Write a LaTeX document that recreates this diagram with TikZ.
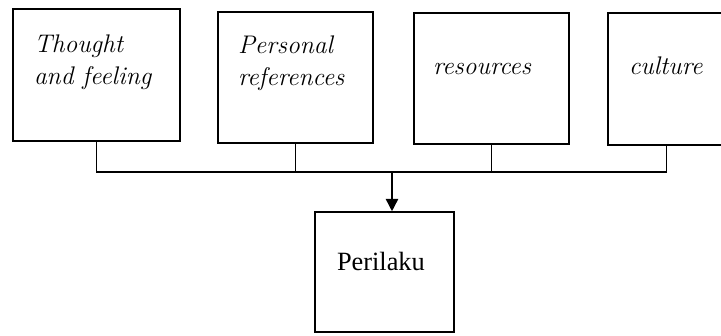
\documentclass[tikz,border=0pt]{standalone}
\usepackage{fontspec}
\setmainfont{Liberation Serif}
\newfontfamily\lmital{Latin Modern Roman}
\usetikzlibrary{positioning}
\usetikzlibrary{arrows.meta}

\begin{document}
\begin{tikzpicture}[every node/.style={color=black},
  box/.style={draw,line width=0.9pt,inner sep=0pt},
  lbl/.style={inner sep=0pt,font=\fontsize{14.5}{18}\selectfont\lmital\itshape,align=left},
  >={Triangle[width=7pt,length=7pt]}, line width=0.9pt]
\useasboundingbox (0,0) rectangle (14.42,-6.72);

\node[box,minimum width=3.34cm,minimum height=2.64cm](tf) at (1.93, -1.5) {};
\node[box,minimum width=3.10cm,minimum height=2.62cm](pr) at (5.91, -1.55) {};
\node[box,minimum width=3.10cm,minimum height=2.62cm](rs) at (9.83, -1.57) {};
\node[box,minimum width=2.34cm,minimum height=2.64cm](cu) at (13.33, -1.58) {};
\node[box,minimum width=2.78cm,minimum height=2.40cm](beh) at (7.69, -5.44) {};

\node[lbl,below right=0.52cm and 0.42cm of tf.north west](tftext) {Thought\\and feeling};
\node[lbl,below right=0.48cm and 0.40cm of pr.north west](prtext) {Personal\\references};
\node[lbl,below right=1.24cm and 0.38cm of rs.north west,anchor=base west](rstext) {resources};
\node[lbl,below right=1.24cm and 0.42cm of cu.north west,anchor=base west](cutext) {culture};
\node[lbl,font=\fontsize{15}{18}\selectfont,below right=1.18cm and 0.44cm of beh.north west,anchor=base west](behtext) {Perilaku};

\coordinate(bus) at (7.84, -3.44);
\draw (tf.south) |- (bus) -| (cu.south);
\draw (pr.south) -- (pr.south |- bus);
\draw (rs.south) -- (rs.south |- bus);
\draw[->] (bus) -- (bus |- beh.north);
\end{tikzpicture}
\end{document}
